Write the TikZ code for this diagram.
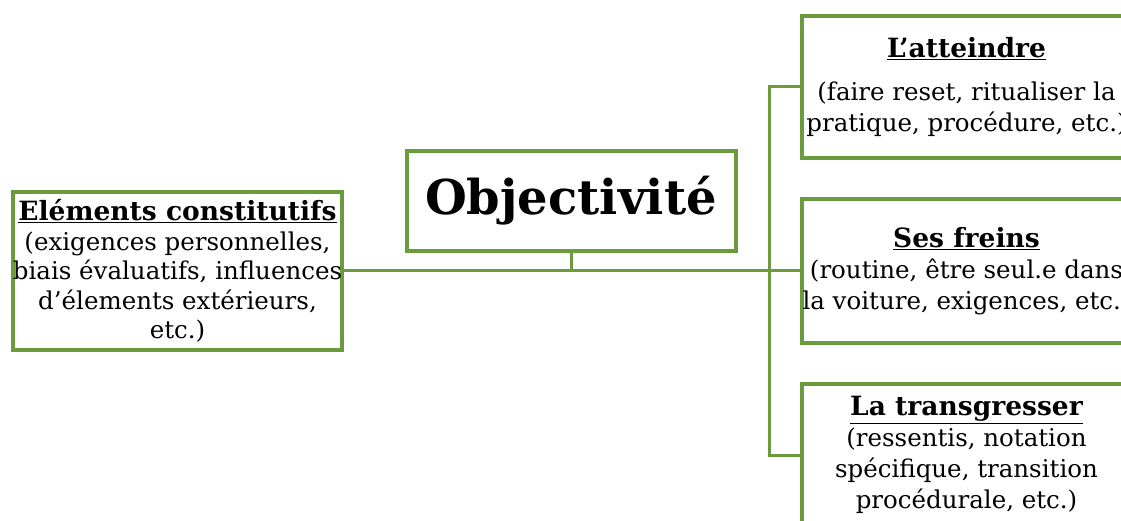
\documentclass[tikz,border=0pt]{standalone}
\usepackage{fontspec}
\setmainfont{DejaVu Serif}
\usetikzlibrary{positioning}
\definecolor{leaf}{HTML}{6B9B3D}
\newcommand{\hd}[1]{{\fontsize{26.5}{31}\selectfont\bfseries\underline{#1}}}

\begin{document}
\begin{tikzpicture}[x=1pt,y=-1pt,
      font=\fontsize{24.5}{31}\selectfont,
      box/.style={draw=leaf,line width=4pt,fill=white,minimum width=329pt,align=center,inner xsep=0pt,inner ysep=2pt},
      lnk/.style={draw=leaf,line width=3pt}]
    \useasboundingbox (0,0) rectangle (1121,521);
    \clip (0,0) rectangle (1121,521);
    \fill[white] (0,0) rectangle (1121,521);
    % centre
    \node[box,minimum height=100pt,font=\fontsize{48}{54}\selectfont\bfseries] (obj) at (571,201) {Objectivit\'e};
    \node[box,minimum height=157pt,font=\fontsize{24.5}{29.5}\selectfont] (elem) at (177.5,271) {\hd{El\'ements constitutifs}\\(exigences personnelles,\\biais \'evaluatifs, influences\\d'\'elements ext\'erieurs,\\etc.)};
    % branches
    \node[box,minimum height=142pt] (reach) at (966.5,87) {\hd{L'atteindre}\\[12pt](faire reset, ritualiser la\\pratique, proc\'edure, etc.)};
    \node[box,minimum height=143pt] (brakes) at (966.5,271) {\hd{Ses freins}\\(routine, \^etre seul.e dans\\la voiture, exigences, etc.)};
    \node[box,minimum height=143pt] (cross) at (966.5,455) {\hd{La transgresser}\\(ressentis, notation\\sp\'ecifique, transition\\proc\'edurale, etc.)};
    \coordinate (jn) at (769,271);
    \draw[lnk] (elem.east) -- (brakes.west);
    \draw[lnk] (obj.south) -- (obj.south |- elem.east);
    \draw[lnk] (reach.west) -| (jn) |- (cross.west);
  \end{tikzpicture}
\end{document}
